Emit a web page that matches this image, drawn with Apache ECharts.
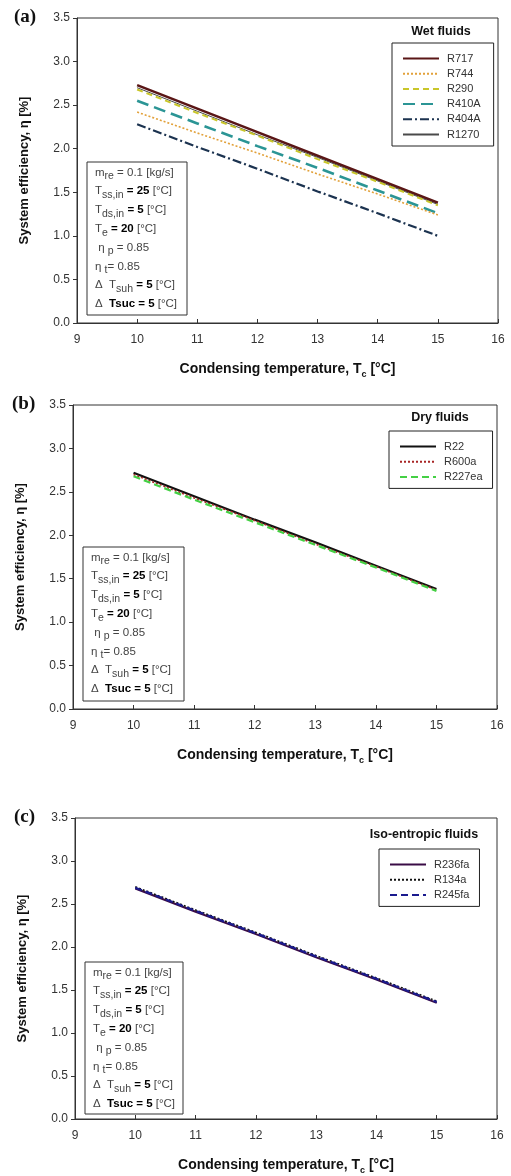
<!DOCTYPE html>
<html><head><meta charset="utf-8">
<script src="https://cdn.jsdelivr.net/npm/echarts@6/dist/echarts.min.js"></script>
<style>html,body{margin:0;padding:0;background:#fff}#c{width:511px;height:1176px}</style>
</head><body><div id="c"></div>
<script>
const condTemp = [10, 11, 12, 13, 14, 15];
const xTicks = [9, 10, 11, 12, 13, 14, 15, 16];
const yTicks = [0, 0.5, 1.0, 1.5, 2.0, 2.5, 3.0, 3.5];

// (a) Wet fluids
const wetNames = ['R717', 'R744', 'R290', 'R410A', 'R404A', 'R1270'];
const R717  = [2.73, 2.46, 2.19, 1.92, 1.65, 1.38];
const R744  = [2.42, 2.18, 1.95, 1.71, 1.48, 1.24];
const R290  = [2.68, 2.41, 2.15, 1.88, 1.62, 1.35];
const R410A = [2.55, 2.29, 2.03, 1.78, 1.52, 1.26];
const R404A = [2.28, 2.02, 1.77, 1.51, 1.26, 1.00];
const R1270 = [2.70, 2.43, 2.16, 1.90, 1.63, 1.36];

// (b) Dry fluids
const dryNames = ['R22', 'R600a', 'R227ea'];
const R22    = [2.72, 2.45, 2.18, 1.92, 1.65, 1.38];
const R600a  = [2.70, 2.43, 2.17, 1.90, 1.64, 1.37];
const R227ea = [2.68, 2.41, 2.15, 1.89, 1.63, 1.36];

// (c) Iso-entropic fluids
const isoNames = ['R236fa', 'R134a', 'R245fa'];
const R236fa = [2.68, 2.41, 2.15, 1.88, 1.62, 1.35];
const R134a  = [2.70, 2.43, 2.17, 1.90, 1.64, 1.37];
const R245fa = [2.69, 2.42, 2.16, 1.89, 1.63, 1.36];

const FONT = '"Liberation Sans", Arial, sans-serif';
const zip = v => condTemp.map((x, i) => [x, v[i]]);

const grids = [
  {left: 77, top: 18, right: 13, height: 305},
  {left: 73, top: 405, right: 14, height: 304},
  {left: 75, top: 818, right: 14, height: 304}
];

function xAx(i) {
  return {
    type: 'value', gridIndex: i, min: 9, max: 16, interval: 1,
    name: 'Condensing temperature, {t|T}{sub|c}{t| [°C]}',
    nameLocation: 'middle', nameGap: 36,
    nameTextStyle: {fontFamily: FONT, fontWeight: 'bold', fontSize: 14, color: '#111', lineHeight: 20,
      rich: {t: {fontFamily: FONT, fontWeight: 'bold', fontSize: 14, color: '#111', lineHeight: 20},
             sub: {fontFamily: FONT, fontWeight: 'bold', fontSize: 9, color: '#111', lineHeight: 10, verticalAlign: 'bottom'}}},
    axisLine: {show: true, lineStyle: {color: '#333', width: 1}},
    axisTick: {show: true, inside: true, length: 4, lineStyle: {color: '#333'}},
    axisLabel: {fontFamily: FONT, fontSize: 12, color: '#333', margin: 11,
      formatter: v => xTicks.includes(v) ? String(v) : ''},
    splitLine: {show: false}
  };
}
function yAx(i) {
  return {
    type: 'value', gridIndex: i, min: 0, max: 3.5, interval: 0.5,
    name: 'System efficiency, η [%]', nameLocation: 'middle', nameGap: 46,
    nameTextStyle: {fontFamily: FONT, fontWeight: 'bold', fontSize: 13, color: '#111'},
    axisLine: {show: true, lineStyle: {color: '#333', width: 1}},
    axisTick: {show: true, inside: false, length: 4, lineStyle: {color: '#333'}},
    axisLabel: {fontFamily: FONT, fontSize: 12, color: '#333', margin: 7,
      formatter: v => yTicks.includes(v) ? v.toFixed(1) : ''},
    splitLine: {show: false}
  };
}

function ser(name, vals, idx, color, width, type) {
  return {
    name, type: 'line', xAxisIndex: idx, yAxisIndex: idx, data: zip(vals),
    symbol: 'none', showSymbol: false, silent: true, animation: false,
    itemStyle: {color, opacity: 0},
    lineStyle: {color, width, type}
  };
}

const series = [
  ser('R717', R717, 0, '#5a1616', 2.6, 'solid'),
  ser('R1270', R1270, 0, '#4a4a4a', 1, 'solid'),
  ser('R290', R290, 0, '#c9c62a', 2, [6, 4]),
  ser('R410A', R410A, 0, '#2b9595', 2.6, [12, 6]),
  ser('R744', R744, 0, '#e2a13a', 1.6, [2, 2]),
  ser('R404A', R404A, 0, '#1c3350', 2.2, [9, 3, 2, 3]),
  ser('R22', R22, 1, '#111111', 2.2, 'solid'),
  ser('R600a', R600a, 1, '#a82525', 1.6, [2, 2]),
  ser('R227ea', R227ea, 1, '#44d044', 2.2, [7, 4]),
  ser('R236fa', R236fa, 2, '#3a0c46', 2, 'solid'),
  ser('R134a', R134a, 2, '#111111', 1.6, [2, 2]),
  ser('R245fa', R245fa, 2, '#1a1a8e', 2.2, [7, 4])
];

function leg(names, left, top, padR) {
  return {
    data: names, orient: 'vertical', left, top, selectedMode: false,
    itemWidth: 36, itemHeight: 10, itemGap: 4.2,
    itemStyle: {opacity: 0},
    padding: [10, padR, 6, 10], borderColor: '#222', borderWidth: 1,
    textStyle: {fontFamily: FONT, fontSize: 11, color: '#333', padding: [0, 0, 0, 3]}
  };
}

// parameter box text
const paramLines = [
  '{n|m}{s|re}{n| = 0.1 [kg/s]}',
  '{n|T}{s|ss,in}{b| = 25}{n| [°C]}',
  '{n|T}{s|ds,in}{b| = 5}{n| [°C]}',
  '{n|T}{s|e}{b| = 20}{n| [°C]}',
  '{n| η }{s|p}{n| = 0.85}',
  '{n|η }{s|t}{n|= 0.85}',
  '{n|Δ  T}{s|suh}{b| = 5}{n| [°C]}',
  '{n|Δ  }{b|Tsuc = 5}{n| [°C]}'
];
const paramRich = {
  n: {fontFamily: FONT, fontSize: 11.5, fill: '#444', lineHeight: 18.8},
  b: {fontFamily: FONT, fontSize: 11.5, fill: '#000', fontWeight: 'bold', lineHeight: 18.8},
  s: {fontFamily: FONT, fontSize: 10.5, fill: '#444', lineHeight: 11, verticalAlign: 'bottom'}
};
const paramBoxes = [[87, 162, 100, 153], [83, 547, 101, 154], [85, 962, 98, 152]];

const graphic = [];
paramBoxes.forEach(([x, y, w, h]) => {
  graphic.push({type: 'rect', shape: {x, y, width: w, height: h}, style: {fill: '#fff', stroke: '#333', lineWidth: 1}, z: 10});
  graphic.push({type: 'text', x: x + 8, y: y + 1, z: 11, style: {text: paramLines.join('\n'), rich: paramRich}});
});
const panelLabels = [['(a)', 14, 8], ['(b)', 12, 395], ['(c)', 14, 808]];
panelLabels.forEach(([t, x, y]) => graphic.push({type: 'text', x, y, z: 11,
  style: {text: t, font: 'bold 19px "Liberation Serif", "DejaVu Serif", serif', fill: '#111'}}));
const legendTitles = [['Wet fluids', 441, 32], ['Dry fluids', 440, 418], ['Iso-entropic fluids', 424, 835]];
legendTitles.forEach(([t, x, y]) => graphic.push({type: 'text', x, y, z: 11,
  style: {text: t, font: 'bold 12.5px ' + FONT, fill: '#111', align: 'center', verticalAlign: 'middle'}}));

const chart = echarts.init(document.getElementById('c'), null, {renderer: 'canvas'});
chart.setOption({
  animation: false,
  backgroundColor: '#fff',
  grid: grids.map(g => Object.assign({show: true, borderColor: '#333', borderWidth: 1, backgroundColor: 'transparent'}, g)),
  xAxis: [0, 1, 2].map(xAx),
  yAxis: [0, 1, 2].map(yAx),
  legend: [leg(wetNames, 392, 43, 13), leg(dryNames, 389, 431, 10), leg(isoNames, 379, 849, 10)],
  series,
  graphic
});
</script></body></html>
